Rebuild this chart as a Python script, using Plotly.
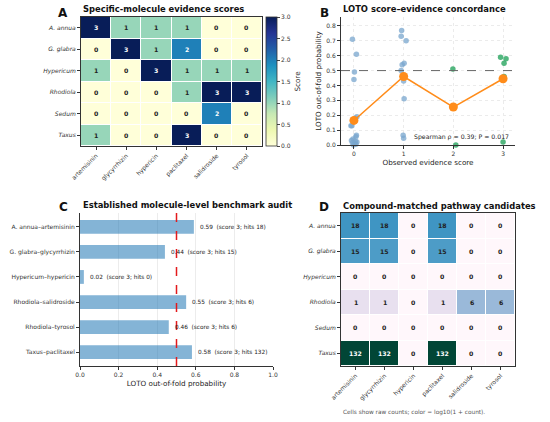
import numpy as np
import plotly.graph_objects as go
import plotly.express as px

W, H = 550, 422
FONT = "DejaVu Sans"

genera = ["A. annua", "G. glabra", "Hypericum", "Rhodiola", "Sedum", "Taxus"]
molecules = ["artemisinin", "glycyrrhizin", "hypericin", "paclitaxel", "salidroside", "tyrosol"]

# panel A: evidence score per genus x molecule
evidence_scores = [
    [3, 1, 1, 1, 0, 0],
    [0, 3, 1, 2, 0, 0],
    [1, 0, 3, 1, 1, 1],
    [0, 0, 0, 1, 3, 3],
    [0, 0, 0, 0, 2, 0],
    [1, 0, 0, 3, 0, 0],
]

# panel B: LOTO probabilities by observed score (x jitter)
loto_scores = [0] * 18 + [1] * 10 + [2] * 2 + [3] * 6
loto_probs = [0.71, 0.61, 0.49, 0.44, 0.19, 0.18, 0.13, 0.13, 0.065, 0.055, 0.04, 0.03, 0.025,
              0.02, 0.015, 0.01, 0.005, 0.0,
              0.77, 0.73, 0.70, 0.55, 0.54, 0.50, 0.43, 0.31, 0.065, 0.045,
              0.51, 0.0,
              0.59, 0.58, 0.55, 0.46, 0.44, 0.02]
loto_jitter = [-0.03, 0.05, 0.01, 0.0, 0.06, 0.03, -0.04, -0.06, 0.05, 0.04, -0.02, -0.05,
               0.03, 0.06, -0.03, 0.02, 0.04, -0.01,
               -0.04, -0.05, 0.05, 0.01, -0.03, -0.05, 0.0, 0.01, -0.01, 0.0,
               -0.01, 0.05,
               -0.05, 0.06, 0.02, 0.02, -0.02, 0.0]
mean_scores = [0, 1, 2, 3]
mean_probs = [0.165, 0.46, 0.255, 0.445]

# panel C: benchmark audit
bench_pairs = ["A. annua–artemisinin", "G. glabra–glycyrrhizin", "Hypericum–hypericin",
               "Rhodiola–salidroside", "Rhodiola–tyrosol", "Taxus–paclitaxel"]
bench_probs = [0.59, 0.44, 0.02, 0.55, 0.46, 0.58]
bench_scores = [3, 3, 3, 3, 3, 3]
bench_hits = [18, 15, 0, 6, 6, 132]

# panel D: raw candidate counts
candidate_counts = [
    [18, 18, 0, 18, 0, 0],
    [15, 15, 0, 15, 0, 0],
    [0, 0, 0, 0, 0, 0],
    [1, 1, 0, 1, 6, 6],
    [0, 0, 0, 0, 0, 0],
    [132, 132, 0, 132, 0, 0],
]


def px_x(v):
    return v / W


def px_y(v):
    return 1 - v / H


ital = ["<i>%s</i>" % g for g in genera]
CELL = 6.2
SMALL = 6
AXT = 7.2
TITLE = 8.4

fig = go.Figure()

# ---- A
fig.add_trace(go.Heatmap(
    z=evidence_scores, x=molecules, y=ital, xaxis="x", yaxis="y",
    colorscale=px.colors.sequential.YlGnBu, zmin=0, zmax=3, xgap=1, ygap=1,
    colorbar=dict(x=px_x(266), xanchor="left", xpad=0, y=px_y(146), yanchor="bottom", ypad=0,
                  len=(146 - 17) / H, lenmode="fraction", thickness=11,
                  outlinecolor="#333", outlinewidth=0.8,
                  tickvals=[0, 0.5, 1, 1.5, 2, 2.5, 3], tickformat=".1f",
                  ticks="outside", ticklen=3, tickfont=dict(size=SMALL, color="#333"),
                  title=dict(text="Score", side="right", font=dict(size=AXT, color="#333"))),
    hoverinfo="skip",
))
anns = []
for i, g in enumerate(ital):
    for j, m in enumerate(molecules):
        v = evidence_scores[i][j]
        anns.append(dict(x=m, y=g, xref="x", yref="y", text="<b>%d</b>" % v, showarrow=False,
                         font=dict(size=CELL, color="white" if v >= 2 else "#222")))

# ---- B
jit_x = [s + j for s, j in zip(loto_scores, loto_jitter)]
cols = ["rgba(120,165,205,0.75)" if s < 2 else "rgba(40,165,95,0.8)" for s in loto_scores]
fig.add_trace(go.Scatter(x=jit_x, y=loto_probs, mode="markers", xaxis="x2", yaxis="y2",
                         marker=dict(size=5.5, color=cols), cliponaxis=False, hoverinfo="skip"))
fig.add_trace(go.Scatter(x=mean_scores, y=mean_probs, mode="lines+markers", xaxis="x2", yaxis="y2",
                         line=dict(color="#ff8c1a", width=1.5),
                         marker=dict(size=9, color="#ff8c1a"), hoverinfo="skip"))

# ---- C
fig.add_trace(go.Bar(x=bench_probs, y=bench_pairs, orientation="h", xaxis="x3", yaxis="y3",
                     width=0.55, marker=dict(color="rgba(31,119,180,0.55)", line=dict(width=0)),
                     hoverinfo="skip"))
for p, s, h, name in zip(bench_probs, bench_scores, bench_hits, bench_pairs):
    anns.append(dict(x=p + 0.02, y=name, xref="x3", yref="y3", xanchor="left",
                     text="%.2f  (score %d; hits %d)" % (p, s, h), showarrow=False,
                     font=dict(size=5.8, color="#222")))

# ---- D
log_counts = np.log10(1 + np.array(candidate_counts, dtype=float))
fig.add_trace(go.Heatmap(
    z=log_counts, x=molecules, y=ital, xaxis="x4", yaxis="y4",
    colorscale=px.colors.sequential.PuBuGn, showscale=False, xgap=1, ygap=1,
    hoverinfo="skip",
))
for i, g in enumerate(ital):
    for j, m in enumerate(molecules):
        v = candidate_counts[i][j]
        anns.append(dict(x=m, y=g, xref="x4", yref="y4", text="<b>%d</b>" % v, showarrow=False,
                         font=dict(size=CELL, color="white" if v >= 100 else "#222")))

# titles and panel letters
for txt, x, y in [("Specific-molecule evidence scores", 81, 9),
                  ("LOTO score–evidence concordance", 341, 9),
                  ("Established molecule-level benchmark audit", 81, 205),
                  ("Compound-matched pathway candidates", 341, 206)]:
    anns.append(dict(x=px_x(x), y=px_y(y), xref="paper", yref="paper", xanchor="left",
                     yanchor="middle", text="<b>%s</b>" % txt, showarrow=False,
                     font=dict(size=TITLE, color="#111")))
for txt, x, y in [("A", 63, 13), ("B", 324, 13), ("C", 63, 207), ("D", 324, 207)]:
    anns.append(dict(x=px_x(x), y=px_y(y), xref="paper", yref="paper", xanchor="center",
                     yanchor="middle", text="<b>%s</b>" % txt, showarrow=False,
                     font=dict(size=12, color="#111")))
anns.append(dict(x=px_x(511), y=px_y(137), xref="paper", yref="paper", xanchor="right",
                 yanchor="middle", text="Spearman ρ = 0.39; P = 0.017", showarrow=False,
                 font=dict(size=6.2, color="#222")))
anns.append(dict(x=px_x(414), y=px_y(412), xref="paper", yref="paper", xanchor="center",
                 yanchor="middle", text="Cells show raw counts; color = log10(1 + count).",
                 showarrow=False, font=dict(size=5.8, color="#555")))

tick = dict(size=SMALL, color="#333")
frame = dict(showline=True, linecolor="#333", linewidth=1, mirror=True, ticks="outside",
             ticklen=3, tickcolor="#333", tickfont=tick, showgrid=False, automargin=False)
spine = dict(showline=True, linecolor="#333", linewidth=1, ticks="outside", ticklen=3,
             tickcolor="#333", tickfont=tick, zeroline=False, automargin=False)

fig.update_layout(
    width=W, height=H, margin=dict(l=0, r=0, t=0, b=0),
    paper_bgcolor="white", plot_bgcolor="white", showlegend=False,
    font=dict(family=FONT, color="#222"),
    annotations=anns,
    xaxis=dict(domain=[px_x(81), px_x(262)], anchor="y", tickangle=-45, **frame),
    yaxis=dict(domain=[px_y(146), px_y(17)], anchor="x", autorange="reversed", **frame),
    xaxis2=dict(domain=[px_x(341), px_x(515)], anchor="y2", range=[-0.26, 3.24],
                tickvals=[0, 1, 2, 3], showgrid=True, gridcolor="#ebebeb", griddash="dot",
                title=dict(text="Observed evidence score", font=dict(size=AXT), standoff=3), **spine),
    yaxis2=dict(domain=[px_y(145), px_y(17)], anchor="x2", range=[0, 0.86],
                tickvals=[0, 0.1, 0.2, 0.3, 0.4, 0.5, 0.6, 0.7, 0.8], tickformat=".1f",
                showgrid=True, gridcolor="#ebebeb", griddash="dot",
                title=dict(text="LOTO out-of-fold probability", font=dict(size=AXT), standoff=3),
                **spine),
    xaxis3=dict(domain=[px_x(80), px_x(273)], anchor="y3", range=[0, 1],
                tickvals=[0, 0.2, 0.4, 0.6, 0.8, 1.0], tickformat=".1f",
                showgrid=True, gridcolor="#ececec",
                title=dict(text="LOTO out-of-fold probability", font=dict(size=AXT), standoff=3),
                **spine),
    yaxis3=dict(domain=[px_y(366), px_y(213)], anchor="x3", range=[5.55, -0.55],
                showgrid=False, **spine),
    xaxis4=dict(domain=[px_x(341), px_x(515)], anchor="y4", tickangle=-45, **frame),
    yaxis4=dict(domain=[px_y(366), px_y(213)], anchor="x4", autorange="reversed", **frame),
    shapes=[
        dict(type="line", xref="x2 domain", yref="y2", x0=0, x1=1, y0=0.5, y1=0.5,
             line=dict(color="#666", width=1, dash="dash")),
        dict(type="line", xref="x3", yref="y3 domain", x0=0.5, x1=0.5, y0=0, y1=1,
             line=dict(color="#e31a1c", width=1.5, dash="dash")),
    ],
)

# the page's default body margin would push the figure 8px off
fig.write_html("out.html", config={"displayModeBar": False},
               post_script="document.body.style.margin='0';")
